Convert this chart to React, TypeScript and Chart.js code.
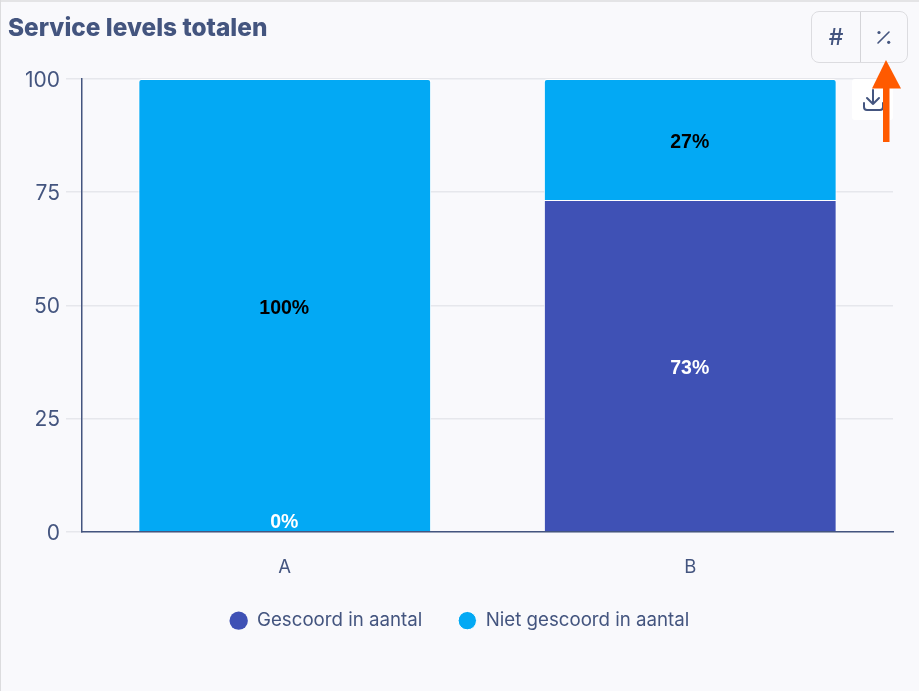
import React, { useEffect, useRef } from "react";
import { Chart, registerables } from "chart.js";

Chart.register(...registerables);

const categories = ["A", "B"];
const seriesNames = ["Gescoord in aantal", "Niet gescoord in aantal"];
const scored = [0, 73.3];
const notScored = [100, 26.7];
const yTicks = [0, 25, 50, 75, 100];

const UI_FONT = "Inter, 'Noto Sans', sans-serif";
const TEXT = "#44557f";

const labelPlugin = {
  id: "barLabels",
  afterDatasetsDraw(chart: any) {
    const ctx = chart.ctx;
    ctx.save();
    ctx.font = "bold 19.5px 'Liberation Sans', Arial, sans-serif";
    ctx.textAlign = "center";
    ctx.textBaseline = "middle";
    chart.data.datasets.forEach((ds: any, di: number) => {
      chart.getDatasetMeta(di).data.forEach((bar: any, i: number) => {
        const v = ds.data[i];
        ctx.fillStyle = di === 0 ? "#ffffff" : "#000000";
        const y = v === 0 ? bar.y - 9 : (bar.y + bar.base) / 2 + 3.5;
        ctx.fillText(Math.round(v) + "%", bar.x - 0.5, y);
      });
    });
    ctx.restore();
  },
};

const edgeWidth = (c: any) => (c.raw === 0 ? 0 : 1);

export default function App() {
  const ref = useRef<HTMLCanvasElement>(null);
  useEffect(() => {
    const chart = new Chart(ref.current!, {
      type: "bar",
      data: {
        labels: categories,
        datasets: [
          {
            label: seriesNames[0],
            data: scored,
            backgroundColor: "#3f51b5",
            borderColor: "#ffffff",
            borderWidth: edgeWidth,
            borderSkipped: "bottom",
          },
          {
            label: seriesNames[1],
            data: notScored,
            backgroundColor: "#03a9f4",
            borderColor: "#ffffff",
            borderWidth: edgeWidth,
            borderSkipped: "bottom",
            borderRadius: { topLeft: 3, topRight: 3, bottomLeft: 0, bottomRight: 0 },
          },
        ] as any,
      },
      options: {
        animation: false,
        responsive: false,
        devicePixelRatio: 1,
        layout: { padding: { left: 26, right: 26, top: 79, bottom: 51 } },
        datasets: { bar: { categoryPercentage: 0.722, barPercentage: 1 } },
        plugins: {
          tooltip: { enabled: false },
          legend: {
            position: "bottom",
            labels: {
              usePointStyle: true,
              pointStyle: "circle",
              boxHeight: 13,
              boxWidth: 18,
              padding: 36,
              color: TEXT,
              font: { family: UI_FONT, size: 18.7 },
            },
          },
        },
        scales: {
          x: {
            stacked: true,
            afterFit(s: any) { s.height = 43.5; },
            grid: { display: false, drawTicks: false },
            border: { color: TEXT, width: 1.5 },
            ticks: {
              color: TEXT,
              padding: 25,
              font: { family: UI_FONT, size: 18.5 },
            },
          },
          y: {
            stacked: true,
            min: 0,
            max: 100,
            afterFit(s: any) { s.width = 56; },
            afterBuildTicks(s: any) { s.ticks = yTicks.map((value) => ({ value })); },
            grid: { color: "#e6e7ec", lineWidth: 1.5, tickLength: 16 },
            border: { color: TEXT, width: 1.5 },
            ticks: {
              color: TEXT,
              padding: 6,
              labelOffset: 1.5,
              font: { family: UI_FONT, size: 21 },
            },
          },
        },
      },
      plugins: [labelPlugin],
    } as any);
    return () => chart.destroy();
  }, []);

  return (
    <div style={{ position: "fixed", left: 0, top: 0, width: 919, height: 691, background: "#f9f9fc", overflow: "hidden" }}>
      <canvas ref={ref} width={919} height={691} style={{ position: "absolute", left: 0, top: 0, width: 919, height: 691 }} />
      <div style={{ position: "absolute", left: 0, top: 0, width: 919, height: 2, background: "#e4e4e6" }} />
      <div style={{ position: "absolute", left: 0, top: 0, width: 1, height: 691, background: "#dcdcde" }} />
      <div style={{ position: "absolute", left: 8, top: 12, font: `800 24.4px ${UI_FONT}`, color: TEXT, whiteSpace: "nowrap" }}>
        Service levels totalen
      </div>
      <div style={{ position: "absolute", left: 811, top: 11, width: 97, height: 52, boxSizing: "border-box", border: "1px solid #dcdce0", borderRadius: 8, background: "#f9f9fc" }}>
        <div style={{ position: "absolute", left: 48, top: 0, width: 1, height: 50, background: "#d4d4d8" }} />
        <div style={{ position: "absolute", left: 0, top: 0, width: 48, height: 50, textAlign: "center", font: `500 23px/50px ${UI_FONT}`, color: TEXT }}>#</div>
      </div>
      <div style={{ position: "absolute", left: 852, top: 79, width: 41, height: 41, background: "#ffffff", borderRadius: 3 }} />
      <svg width={919} height={691} style={{ position: "absolute", left: 0, top: 0 }}>
        <path d="M878 43L889 32" stroke={TEXT} strokeWidth={1.6} strokeLinecap="round" />
        <circle cx={879} cy={32.5} r={1.6} fill={TEXT} />
        <circle cx={888.7} cy={42.3} r={1.6} fill={TEXT} />
        <g fill="none" stroke={TEXT} strokeWidth={2} strokeLinecap="round" strokeLinejoin="round">
          <path d="M873 90v14M867 98l6 6 6-6" />
          <path d="M864 103v4a3 3 0 0 0 3 3h13a3 3 0 0 0 3-3v-4" />
        </g>
        <path d="M886 60L901 88.5H872Z" fill="#ff5a00" />
        <rect x={883} y={88} width={6.5} height={54} fill="#ff5a00" />
      </svg>
    </div>
  );
}
